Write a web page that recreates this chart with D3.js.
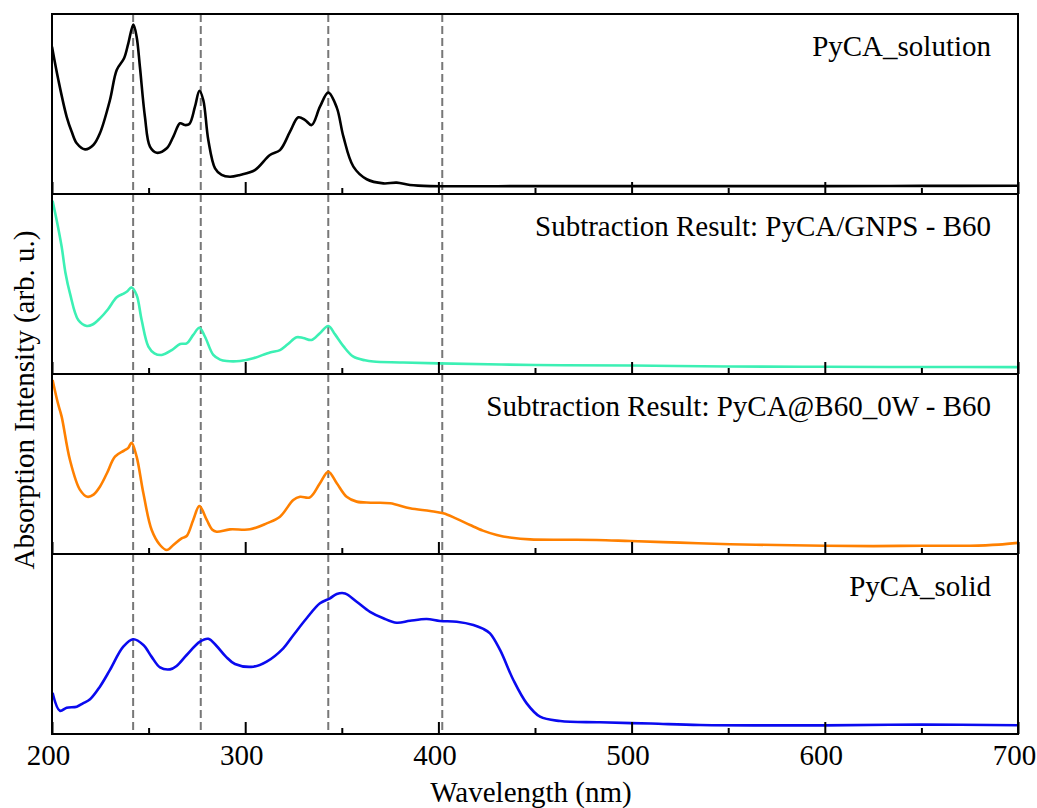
<!DOCTYPE html>
<html>
<head>
<meta charset="utf-8">
<script src="https://cdn.jsdelivr.net/npm/d3@7"></script>
<style>
  html, body { margin: 0; padding: 0; background: #fff; }
  svg { display: block; }
  svg text { font-family: "Times New Roman", "Liberation Serif", "DejaVu Serif", serif !important; }
</style>
</head>
<body>
<svg id="chart" width="1037" height="808"></svg>
<script>
// Absorption spectra: [wavelength (nm), intensity (arb. u., 0-100 per panel)]
const solution = [
  [200, 81.8], [203.3, 63.3], [207.6, 42.9], [210.2, 34.6], [212.8, 28.2], [217.1, 24.8],
  [221.4, 27.2], [224.8, 33.7], [230, 52.2], [233.5, 68.9], [237.3, 75.4], [239.5, 83.7],
  [242.1, 94.2], [243.8, 87.4], [245.5, 70.7], [248.1, 42.9], [250.7, 26.3], [254.2, 22.9],
  [259.4, 25.4], [262.8, 31.9], [266.3, 39.3], [268.8, 38.3], [271.1, 38.9], [274, 48.5],
  [276.3, 57.4], [278.3, 52.2], [280.9, 30], [284.4, 14.3], [287.8, 10.6], [292.1, 9.6],
  [297.3, 10.6], [305, 13.3], [312.8, 21.7], [318, 24.4], [323.2, 34.6], [327.5, 42.6],
  [331, 41.1], [334.4, 38.3], [338.7, 48.5], [343, 56.3], [347.4, 48], [350.8, 32],
  [356, 15.2], [362.9, 8.2], [371.5, 5.9], [378.4, 6.3], [385.3, 5], [395.7, 4.4],
  [450, 4.4], [500, 4.4], [550, 4.4], [600, 4.4], [650, 4.5], [700, 4.6]
];
const gnps = [
  [200.3, 96.3], [202.5, 85], [205, 70.7], [207, 56], [209.3, 44.8], [213.6, 30],
  [218, 26.7], [221, 27.5], [224.8, 30.9], [229, 36], [233.5, 42.6], [237.3, 44.8],
  [239, 46], [241.2, 48.1], [243.8, 43.9], [246.4, 30], [249.9, 15.2], [253, 11.5],
  [256.8, 10.6], [262, 13.3], [266.3, 16.7], [269.7, 17], [273.1, 21.7], [276.3, 25.7],
  [279.2, 20.7], [283.5, 10.6], [287, 8], [290.4, 7.2], [297.3, 7.2], [304.2, 8.7],
  [312.8, 12], [318, 13.3], [322, 16.5], [326.6, 20.4], [330, 20], [334.4, 18.9],
  [338.5, 22.5], [343, 26.7], [346.5, 22], [350.8, 15.5], [356, 9.6], [362, 7.6],
  [366.3, 6.9], [380, 6.4], [400, 5.9], [450, 5], [500, 4.7], [550, 4.2], [600, 4.0],
  [650, 3.9], [700, 3.8]
];
const b60w0 = [
  [200.3, 96.7], [203, 84], [205, 76.3], [209.3, 52.2], [214.5, 35.6], [218.3, 31.8],
  [221.5, 33], [224.8, 37.4], [228.5, 45], [232.6, 54.1], [237.3, 57.4], [239.5, 59],
  [241.2, 61.8], [243.8, 54.1], [247.3, 33.7], [251.6, 13.3], [255.9, 5], [259.4, 2.2],
  [262.8, 5], [267.1, 8.7], [269.7, 10], [273.1, 18.9], [276.3, 26.7], [280.1, 18.9],
  [283, 13.5], [285.2, 12.4], [292.1, 13.7], [302.5, 13.7], [311.1, 17], [318, 20.7],
  [324.9, 30], [328.4, 31.8], [333.5, 31.5], [338.7, 39.3], [343, 45.7], [347.4, 39.3],
  [352.5, 31.8], [357.7, 29.1], [365, 28.5], [375, 28.2], [385.3, 25.4], [395.7, 23.9],
  [402.5, 22.6], [409, 19.8], [416.4, 16.1], [423, 13], [430.2, 10.6], [438, 9],
  [447.4, 8.1], [465, 7.9], [481.9, 7.8], [499.2, 7.2], [525, 6.3], [551, 5.4],
  [575, 5.0], [600, 4.6], [625, 4.4], [650, 4.6], [675, 4.6], [690, 5.2], [700, 6.2]
];
const solid = [
  [200.3, 22.9], [204.1, 12.9], [207.6, 14.6], [212.8, 15.2], [216, 17], [219.7, 19.3],
  [224.8, 26.3], [230, 35.6], [236.9, 48.5], [242.1, 52.6], [247.3, 49.4], [251.5, 43],
  [255.9, 37], [261.1, 35.9], [264.5, 37.8], [269.7, 43.9], [276.6, 51.3], [280.9, 52.9],
  [285.2, 48.9], [290, 43], [294.7, 38.9], [304.2, 37.4], [311.1, 40.2], [319.7, 47.6],
  [325, 55], [331.8, 64.3], [338.7, 72.6], [343.9, 75.4], [347.4, 77.8], [351.7, 78.1],
  [357.7, 73.5], [364.6, 67.9], [371.5, 64.3], [378.4, 61.8], [385.3, 62.9], [393.9, 63.9],
  [400.8, 62.8], [409.5, 62.4], [418.1, 60.6], [423, 58.5], [426.7, 55.9], [431.9, 46.7],
  [438.8, 30], [445.7, 17], [452.6, 9.6], [463, 7.2], [483.6, 6.5], [510, 5.8],
  [535.4, 5], [600, 4.8], [650, 5.2], [700, 4.9]
];

const panelLabels = [
  "PyCA_solution",
  "Subtraction Result: PyCA/GNPS - B60",
  "Subtraction Result: PyCA@B60_0W - B60",
  "PyCA_solid"
];
const panelColors = ["#000000", "#3cf0b4", "#ff8000", "#0a0aef"];
const panelSeries = [solution, gnps, b60w0, solid];

// Characteristic band positions (nm) marked across all panels
const bandPositions = [242, 277, 343, 402];

const majorTicks = [200, 300, 400, 500, 600, 700];
const minorTicks = [250, 350, 450, 550, 650];

const xTitle = "Wavelength (nm)";
const yTitle = "Absorption Intensity (arb. u.)";

// ---- layout ----
const plotLeft = 52, plotRight = 1018, plotTop = 14, panelH = 180;
const nPanels = panelSeries.length;
const plotBottom = plotTop + panelH * nPanels;
const serif = "'Times New Roman', 'Liberation Serif', 'DejaVu Serif', serif";

const svg = d3.select("#chart");
const x = d3.scaleLinear().domain([200, 700]).range([plotLeft, plotRight]);

const line = d3.line().curve(d3.curveCatmullRom.alpha(0.5));

svg.append("defs").append("clipPath").attr("id", "plotClip")
  .append("rect").attr("x", plotLeft).attr("y", plotTop)
  .attr("width", plotRight - plotLeft).attr("height", plotBottom - plotTop);

// dashed band markers
svg.append("g").selectAll("line").data(bandPositions).join("line")
  .attr("x1", d => x(d)).attr("x2", d => x(d))
  .attr("y1", plotTop).attr("y2", plotBottom)
  .attr("stroke", "#777").attr("stroke-width", 2)
  .attr("stroke-dasharray", "8,4");

panelSeries.forEach((series, i) => {
  const y0 = plotTop + i * panelH;
  const y = d3.scaleLinear().domain([0, 100]).range([y0 + panelH, y0]);
  const g = svg.append("g");

  // spectrum
  g.append("path")
    .datum(series)
    .attr("clip-path", "url(#plotClip)")
    .attr("fill", "none")
    .attr("stroke", panelColors[i])
    .attr("stroke-width", 2.6)
    .attr("stroke-linejoin", "round")
    .attr("d", line.x(d => x(d[0])).y(d => y(d[1])));

  // panel frame
  g.append("rect")
    .attr("x", plotLeft).attr("y", y0)
    .attr("width", plotRight - plotLeft).attr("height", panelH)
    .attr("fill", "none").attr("stroke", "#000").attr("stroke-width", 2);

  // inward ticks on the bottom edge
  const axMajor = d3.axisBottom(x).tickValues(majorTicks).tickSize(-12)
    .tickFormat(i === nPanels - 1 ? d3.format("d") : () => "");
  const axMinor = d3.axisBottom(x).tickValues(minorTicks).tickSize(-6).tickFormat(() => "");

  const gMaj = g.append("g").attr("transform", `translate(0,${y0 + panelH})`).call(axMajor);
  const gMin = g.append("g").attr("transform", `translate(0,${y0 + panelH})`).call(axMinor);
  [gMaj, gMin].forEach(a => {
    a.attr("font-family", serif);
    a.select(".domain").remove();
    a.selectAll(".tick line").attr("stroke", "#000").attr("stroke-width", 2);
  });
  gMaj.selectAll(".tick text")
    .attr("y", 31).attr("dy", 0).attr("dx", -4)
    .attr("font-family", serif)
    .attr("font-size", 29).attr("fill", "#000");

  // panel label
  g.append("text")
    .attr("x", 991).attr("y", y0 + 42)
    .attr("text-anchor", "end")
    .attr("font-family", serif)
    .attr("font-size", 29).attr("fill", "#000")
    .text(panelLabels[i]);
});

// axis titles
svg.append("text")
  .attr("x", 531).attr("y", 802)
  .attr("text-anchor", "middle")
  .attr("font-family", serif)
  .attr("font-size", 29).attr("fill", "#000")
  .text(xTitle);

svg.append("text")
  .attr("transform", "translate(34,400) rotate(-90)")
  .attr("text-anchor", "middle")
  .attr("font-family", serif)
  .attr("font-size", 29).attr("fill", "#000")
  .text(yTitle);
</script>
</body>
</html>
